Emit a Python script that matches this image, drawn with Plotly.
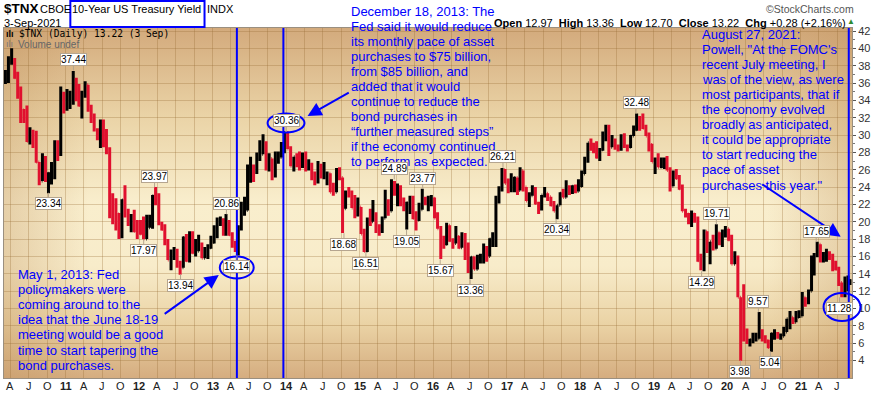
import base64
import pandas as pd
import plotly.graph_objects as go

# ---------------- data (half-month bars, $TNX = 10x yield) ----------------
close = [
    # 2010 Mar..Dec
    36.9, 38.4, 38.6, 36.6, 34.6, 32.9, 32.3, 29.3, 29.9, 29.1,
    26.9, 24.7, 27.4, 25.1, 25.6, 26.0, 28.9, 27.8, 34.7, 33.0,
    # 2011
    33.3, 33.7, 36.2, 34.3, 33.4, 34.7, 35.8, 32.9, 31.7, 30.6, 29.7, 31.6,
    29.1, 28.0, 22.5, 22.3, 20.9, 19.2, 22.5, 21.2, 20.1, 20.7, 18.9, 18.8,
    # 2012
    18.6, 18.0, 19.3, 19.8, 23.0, 22.1, 19.8, 19.1, 17.5, 15.6, 15.9, 16.5,
    14.9, 14.7, 18.2, 15.5, 18.7, 16.4, 16.6, 17.2, 15.8, 16.2, 17.0, 17.6,
    # 2013
    18.3, 19.9, 20.0, 18.9, 20.0, 18.5, 17.2, 16.7, 19.4, 21.3, 21.3, 24.9,
    25.9, 25.8, 27.7, 27.8, 28.8, 26.1, 27.3, 25.5, 27.1, 27.4, 28.7, 30.3,
    # 2014
    28.4, 26.4, 27.5, 26.5, 26.5, 27.2, 26.3, 26.5, 25.2, 24.6, 26.0, 25.3,
    25.5, 25.6, 23.4, 23.4, 26.0, 25.1, 21.5, 23.4, 23.2, 21.6, 21.1, 21.7,
    # 2015
    18.6, 16.6, 20.2, 20.0, 20.9, 19.3, 18.9, 20.4, 21.4, 21.2, 23.7, 23.5,
    23.6, 22.0, 21.9, 22.2, 22.8, 20.4, 20.2, 21.4, 22.7, 22.1, 22.3, 22.7,
    # 2016
    20.4, 19.2, 17.5, 17.4, 19.6, 17.8, 17.5, 18.3, 17.0, 18.5, 15.8, 14.7,
    15.9, 14.5, 15.6, 15.8, 16.9, 16.0, 18.0, 18.3, 22.3, 23.7, 26.0, 24.4,
    # 2017
    23.8, 24.5, 25.1, 23.6, 25.9, 24.0, 22.4, 23.0, 23.3, 22.1, 21.6, 23.1,
    23.3, 22.9, 21.9, 21.2, 21.9, 23.3, 22.8, 23.8, 23.7, 24.1, 23.5, 24.1,
    # 2018
    25.5, 27.2, 29.1, 28.7, 28.2, 27.4, 28.3, 29.5, 30.7, 28.6, 29.2, 28.6,
    28.4, 29.6, 28.7, 28.6, 29.9, 30.6, 31.6, 31.5, 30.8, 29.9, 28.9, 26.9,
    # 2019
    27.1, 26.3, 26.6, 27.2, 25.9, 24.1, 25.6, 25.0, 23.8, 21.2, 20.9, 20.1,
    20.9, 20.2, 15.5, 15.0, 18.9, 16.7, 17.7, 16.9, 18.8, 17.8, 18.8, 19.2,
    # 2020
    17.9, 15.1, 15.9, 11.3, 9.5, 6.7, 6.3, 6.4, 6.4, 6.5, 7.1, 6.6,
    6.3, 5.5, 7.1, 7.1, 6.7, 6.8, 7.3, 8.8, 9.0, 8.4, 9.0, 9.1,
    # 2021 Jan..Aug, Sep 3
    11.3, 10.7, 12.0, 14.0, 16.2, 17.4, 15.7, 16.3, 16.3, 15.8, 14.9, 14.5,
    13.0, 12.2, 12.8, 13.1, 13.22,
]
high = [
    37.5, 39.1, 40.0, 38.9, 37.3, 35.6, 33.0, 33.4, 30.9, 30.6,
    30.5, 26.9, 27.9, 27.6, 25.7, 26.9, 29.4, 29.4, 35.6, 35.0,
    35.3, 35.1, 37.4, 36.6, 35.9, 35.1, 36.2, 35.0, 33.5, 32.5, 30.8, 31.8,
    31.8, 30.7, 28.6, 23.3, 22.7, 21.0, 22.6, 24.2, 21.5, 20.9, 21.4, 20.2,
    20.2, 20.6, 20.8, 20.8, 23.1, 24.0, 23.3, 20.0, 19.7, 18.0, 16.8, 17.1,
    16.9, 15.5, 18.3, 18.6, 18.9, 18.9, 18.0, 18.5, 17.6, 17.1, 17.4, 18.4,
    19.6, 20.5, 20.6, 20.4, 20.9, 20.2, 18.8, 17.8, 19.6, 22.3, 22.9, 26.6,
    27.5, 26.6, 28.0, 29.4, 30.1, 29.3, 27.9, 26.5, 28.1, 28.1, 29.2, 30.4,
    30.4, 28.7, 27.5, 27.9, 28.1, 28.0, 28.1, 27.2, 26.8, 25.8, 27.0, 26.7,
    26.9, 25.8, 25.3, 24.5, 26.2, 26.3, 24.8, 23.6, 24.0, 23.6, 23.1, 22.8,
    21.3, 19.2, 20.5, 21.5, 22.5, 21.1, 19.7, 20.6, 23.7, 22.6, 24.9, 24.7,
    24.4, 24.2, 22.8, 22.3, 23.0, 23.0, 21.2, 22.2, 23.8, 22.9, 23.0, 23.1,
    22.8, 21.1, 19.5, 18.4, 19.9, 19.6, 18.1, 19.5, 18.4, 18.8, 18.7, 17.6,
    16.0, 16.0, 16.2, 16.3, 17.5, 17.2, 18.1, 18.8, 23.0, 24.1, 26.2, 26.1,
    25.0, 25.6, 25.2, 25.1, 26.3, 25.2, 24.0, 23.4, 24.2, 24.0, 22.3, 23.1,
    24.0, 23.3, 22.9, 22.4, 21.9, 23.4, 23.8, 24.8, 24.2, 24.2, 24.3, 24.9,
    25.9, 27.5, 29.1, 29.6, 29.1, 29.3, 28.5, 30.4, 31.2, 31.2, 30.0, 29.6,
    28.9, 30.1, 30.2, 28.9, 30.0, 31.1, 32.5, 32.2, 32.5, 31.2, 30.3, 29.0,
    27.4, 27.9, 27.4, 27.4, 27.6, 26.3, 25.9, 26.1, 25.4, 24.3, 21.5, 21.0,
    21.3, 21.0, 20.6, 16.3, 19.1, 18.9, 17.7, 18.5, 19.7, 18.4, 19.1, 19.5,
    19.2, 18.5, 16.6, 16.1, 10.5, 12.8, 7.7, 6.5, 7.2, 7.2, 9.6, 7.6,
    6.9, 6.4, 7.2, 7.6, 7.3, 7.1, 7.9, 8.8, 9.7, 8.9, 9.7, 9.8,
    11.9, 11.0, 12.2, 16.1, 16.4, 17.7, 17.3, 16.5, 16.9, 16.6, 16.3, 15.5,
    14.8, 13.0, 13.7, 13.8, 13.36,
]
low = [
    35.9, 36.0, 38.1, 36.5, 34.2, 31.4, 31.4, 29.2, 28.9, 28.5,
    26.8, 24.2, 24.7, 24.6, 23.3, 24.3, 24.9, 27.0, 27.6, 32.5,
    32.8, 33.0, 33.5, 33.9, 33.3, 31.9, 34.3, 32.7, 31.4, 30.4, 29.4, 28.5,
    28.6, 27.8, 20.4, 19.7, 19.0, 18.0, 18.1, 20.5, 19.5, 18.8, 18.8, 18.0,
    18.5, 17.97, 18.0, 19.3, 19.2, 21.9, 19.6, 19.0, 17.3, 15.6, 14.4, 15.6,
    14.7, 13.9, 14.7, 15.4, 15.3, 16.3, 16.0, 16.9, 15.8, 15.9, 15.7, 16.9,
    17.5, 18.1, 19.5, 18.4, 18.4, 18.4, 17.0, 16.5, 16.1, 19.0, 20.7, 21.7,
    24.5, 24.6, 25.5, 27.0, 27.9, 25.9, 25.8, 24.8, 25.1, 26.7, 27.5, 27.9,
    28.4, 26.4, 25.8, 26.3, 25.9, 26.2, 25.8, 25.9, 24.8, 24.2, 24.4, 25.0,
    24.9, 24.2, 23.4, 23.0, 23.4, 24.8, 18.7, 21.6, 22.8, 21.6, 20.4, 20.6,
    18.6, 16.5, 16.5, 19.5, 20.4, 18.7, 18.4, 18.7, 20.9, 20.7, 21.3, 23.0,
    21.8, 21.8, 21.2, 19.1, 20.9, 20.3, 19.0, 20.1, 21.4, 21.9, 21.2, 21.8,
    20.4, 19.2, 15.7, 16.9, 17.3, 17.7, 16.9, 17.5, 16.9, 17.4, 15.6, 14.1,
    13.4, 14.5, 14.9, 15.2, 15.2, 15.4, 16.0, 17.1, 17.1, 22.1, 23.5, 24.4,
    23.3, 23.4, 23.4, 23.1, 24.0, 23.5, 22.4, 21.7, 23.0, 22.0, 20.9, 21.3,
    22.8, 22.4, 21.8, 21.2, 20.3, 21.9, 22.8, 22.8, 23.1, 23.2, 23.3, 23.5,
    24.0, 25.5, 26.8, 28.2, 27.9, 27.3, 27.0, 28.2, 29.3, 27.6, 28.7, 28.3,
    28.1, 28.2, 28.5, 28.1, 28.5, 29.9, 30.5, 30.5, 30.7, 29.9, 28.1, 26.9,
    25.5, 26.3, 26.2, 26.1, 25.9, 23.5, 24.3, 24.9, 23.7, 21.2, 20.5, 19.7,
    19.4, 19.9, 15.4, 14.4, 14.3, 16.4, 15.1, 16.7, 17.1, 17.3, 17.1, 18.2,
    17.8, 15.1, 15.1, 11.3, 3.98, 6.2, 5.9, 5.6, 6.0, 6.2, 6.5, 6.2,
    6.0, 5.4, 5.0, 6.4, 6.5, 6.4, 6.8, 7.5, 7.6, 8.2, 8.9, 8.9,
    9.1, 10.2, 10.5, 12.0, 13.8, 15.9, 15.3, 15.3, 15.4, 15.6, 14.3, 14.4,
    12.6, 11.3, 11.3, 12.0, 12.70,
]
first_open = 36.1

# bar dates: two per month (Mar 2010 .. Aug 2021) plus the last session
bar_dates = []
for m in pd.period_range("2010-03", "2021-08", freq="M"):
    bar_dates.append(f"{m.year}-{m.month:02d}-08")
    bar_dates.append(f"{m.year}-{m.month:02d}-23")
bar_dates.append("2021-09-02")

# labelled highs / lows
label_dates = ["2010-10-08", "2011-02-09", "2012-01-24", "2012-03-18", "2012-07-25",
               "2013-03-10", "2013-05-01", "2013-12-31", "2014-10-15", "2015-02-01",
               "2015-06-22", "2015-08-22", "2015-11-10", "2016-02-05", "2016-07-03",
               "2016-12-13", "2017-09-03", "2018-10-05", "2019-08-27", "2019-11-08",
               "2020-03-07", "2020-06-04", "2020-08-03", "2021-03-18", "2021-07-12"]
label_values = ["23.34", "37.44", "17.97", "23.97", "13.94",
                "20.86", "16.14", "30.36", "18.68", "16.51",
                "24.89", "19.05", "23.77", "15.67", "13.36",
                "26.21", "20.34", "32.48", "14.29", "19.71",
                "3.98", "9.57", "5.04", "17.65", "11.28"]
label_side = ["low", "high", "low", "high", "low",
              "high", "low", "high", "low", "low",
              "high", "low", "high", "low", "low",
              "high", "low", "high", "low", "high",
              "low", "high", "low", "high", "low"]

event_dates = ["2013-05-01", "2013-12-18", "2021-08-27"]

y_ticks = list(range(4, 43, 2))
tick_dates = []
tick_text = []
for yr in range(2010, 2022):
    for mo, lab in [(1, f"<b>{str(yr)[2:]}</b>"), (4, "A"), (7, "J"), (10, "O")]:
        d = f"{yr}-{mo:02d}-01"
        if "2010-03-01" < d < "2021-09-12":
            tick_dates.append(d)
            tick_text.append(lab)

may_lines = ["May 1, 2013: Fed", "policymakers were", "coming around to the",
             "idea that the June 18-19", "meeting would be a good",
             "time to start tapering the", "bond purchases."]
dec_lines = ["December 18, 2013: The", "Fed said it would reduce",
             "its monthly pace of asset", "purchases to $75 billion,",
             "from $85 billion, and", "added that it would",
             "continue to reduce the", "bond purchases in",
             "\u201cfurther measured steps\u201d", "if the economy continued",
             "to perform as expected."]
aug_lines = ["August 27, 2021:", "Powell, \"At the FOMC's", "recent July meeting, I",
             "was of the view, as were", "most participants, that if",
             "the economy evolved", "broadly as anticipated,",
             "it could be appropriate", "to start reducing the",
             "pace of asset", "purchases this year.\""]

# ---------------- figure ----------------
W, H = 873, 395
PL, PR, PT, PB = 3, 853, 28, 378


def fx(p):
    return (p - PL) / (PR - PL)


def fy(p):
    return (PB - p) / (PB - PT)


opens = [first_open] + close[:-1]
hi = [max(h, o, c) for h, o, c in zip(high, opens, close)]
lo = [min(l, o, c) for l, o, c in zip(low, opens, close)]

BLUE = "#0000ff"
FONT = "Arial, Liberation Sans, sans-serif"

fig = go.Figure(go.Ohlc(
    x=bar_dates, open=opens, high=hi, low=lo, close=close,
    increasing=dict(line=dict(color="#000000", width=3)),
    decreasing=dict(line=dict(color="#e0102e", width=3)),
    tickwidth=0.35, hoverinfo="skip", showlegend=False,
))

svg = (
    "<svg xmlns='http://www.w3.org/2000/svg' width='100' height='100' "
    "viewBox='0 0 100 100' preserveAspectRatio='none'>"
    "<defs><linearGradient id='g' x1='0' y1='0' x2='0' y2='1'>"
    "<stop offset='0' stop-color='#d3aa7c'/>"
    "<stop offset='0.25' stop-color='#ead3a6'/>"
    "<stop offset='0.5' stop-color='#f9eecd'/>"
    "<stop offset='0.68' stop-color='#f8ecca'/>"
    "<stop offset='0.85' stop-color='#ead2a4'/>"
    "<stop offset='1' stop-color='#d5ad80'/></linearGradient>"
    "<linearGradient id='h' x1='0' y1='0' x2='1' y2='0'>"
    "<stop offset='0' stop-color='#b98750' stop-opacity='0.30'/>"
    "<stop offset='0.1' stop-color='#b98750' stop-opacity='0'/>"
    "<stop offset='0.9' stop-color='#b98750' stop-opacity='0'/>"
    "<stop offset='1' stop-color='#b98750' stop-opacity='0.30'/></linearGradient></defs>"
    "<rect width='100' height='100' fill='url(#g)'/>"
    "<rect width='100' height='100' fill='url(#h)'/></svg>"
)
bg_uri = "data:image/svg+xml;base64," + base64.b64encode(svg.encode()).decode()

shapes = []
for d in event_dates:
    shapes.append(dict(type="line", xref="x", yref="paper", x0=d, x1=d, y0=0, y1=1,
                       line=dict(color=BLUE, width=2), layer="above"))
# ellipses around key labels (pixel centre, rx, ry)
for cx, cy, rx, ry in [(236.3, 267.5, 17, 11), (285.7, 123, 18.5, 9.5), (843, 307, 18.5, 14)]:
    shapes.append(dict(type="circle", xref="paper", yref="paper",
                       x0=fx(cx - rx), x1=fx(cx + rx), y0=fy(cy + ry), y1=fy(cy - ry),
                       line=dict(color=BLUE, width=2), layer="above"))
# title box
shapes.append(dict(type="rect", xref="paper", yref="paper",
                   x0=fx(69.5), x1=fx(204), y0=fy(27), y1=fy(1),
                   line=dict(color=BLUE, width=2)))

ann = []


def text(xp, yp, s, size=11, color="#000", family=FONT, anchor="left"):
    ann.append(dict(x=fx(xp), y=fy(yp), xref="paper", yref="paper", text=s,
                    showarrow=False, xanchor=anchor, yanchor="middle",
                    borderpad=0, borderwidth=0,
                    font=dict(size=size, color=color, family=family)))


text(3, 8.5, "<b>$TNX</b>", size=13.5)
text(39.5, 9, "CBOE")
text(71.5, 9, "10-Year US Treasury Yield")
text(206.5, 9, "INDX")
text(3.5, 22.7, "3-Sep-2021")
text(855, 9.5, "\u00a9StockCharts.com", size=10.5, color="#555", anchor="right")
text(847, 22.7, "<b>Open</b> 12.97\u00a0 <b>High</b> 13.36\u00a0 <b>Low</b> 12.70\u00a0 "
     "<b>Close</b> 13.22\u00a0 <b>Chg</b> +0.28 (+2.16%)", anchor="right")
text(848, 21.5, "\u25b2", size=8, color="#2e8b2e")
text(5, 34, "<b>\u0131l\u0131</b>", size=9)
text(18.3, 34, "$TNX (Daily) 13.22 (3 Sep)", size=9.6, family="DejaVu Sans Mono, monospace")
text(5.5, 44, "\u0131l\u0131", size=9, color="#777")
text(16.7, 44, "Volume undef", size=10, color="#666")

for i, s in enumerate(may_lines):
    text(17.3, 274 + 15.2 * i, s, size=13, color=BLUE)
for i, s in enumerate(dec_lines):
    text(350.7, 11.7 + 15 * i, s, size=13, color=BLUE)
for i, s in enumerate(aug_lines):
    text(702.3, 34.3 + 15.07 * i, s, size=13, color=BLUE)

# x tick labels (placed just under the plot)
for d, s in zip(tick_dates, tick_text):
    ann.append(dict(x=d, y=fy(386), xref="x", yref="paper", text=s, showarrow=False,
                    xanchor="center", yanchor="middle", borderpad=0, borderwidth=0,
                    font=dict(size=11, color="#222", family=FONT)))

# arrows (tip pixel, tail pixel)
for (tx, ty), (sx, sy) in [((218.3, 275), (162.7, 315)),
                           ((307.3, 116), (350, 91.7)),
                           ((841.7, 236.7), (761.7, 183.3))]:
    ann.append(dict(x=fx(tx), y=fy(ty), xref="paper", yref="paper", text="",
                    showarrow=True, ax=sx - tx, ay=sy - ty, arrowhead=2,
                    arrowsize=1.4, arrowwidth=2, arrowcolor=BLUE, standoff=0))

# price labels
for d, v, side in zip(label_dates, label_values, label_side):
    ann.append(dict(x=d, y=float(v), xref="x", yref="y", text=v,
                    showarrow=True, ax=0, ay=-11 if side == "high" else 11,
                    arrowhead=0, arrowwidth=1, arrowcolor="#b5a58f", standoff=0,
                    bgcolor="#ffffff", bordercolor="#b5a58f", borderwidth=1, borderpad=0,
                    font=dict(size=10, color="#000", family=FONT)))

fig.update_layout(
    width=W, height=H,
    margin=dict(l=PL, r=W - PR, t=PT, b=H - PB),
    paper_bgcolor="#ffffff", plot_bgcolor="rgba(0,0,0,0)",
    images=[dict(source=bg_uri, xref="paper", yref="paper", x=0, y=1, sizex=1, sizey=1,
                 xanchor="left", yanchor="top", sizing="stretch", layer="below")],
    shapes=shapes, annotations=ann, showlegend=False,
    font=dict(family=FONT, size=11, color="#222"),
    xaxis=dict(type="date", range=["2010-03-01", "2021-09-12"],
               tickmode="array", tickvals=tick_dates, showticklabels=False,
               showgrid=True, gridcolor="rgba(150,105,50,0.3)", gridwidth=1,
               ticks="",
               showline=True, linecolor="#9a8f80", linewidth=1, mirror=True,
               rangeslider=dict(visible=False), zeroline=False, fixedrange=True),
    yaxis=dict(side="right", range=[1.98, 42.35], tickmode="array", tickvals=y_ticks,
               showgrid=True, gridcolor="rgba(150,105,50,0.3)", gridwidth=1,
               ticks="outside", ticklen=3, tickcolor="#555",
               minor=dict(tickmode="array", tickvals=list(range(5, 43, 2)),
                          ticks="outside", ticklen=2, tickcolor="#777", showgrid=False),
               tickfont=dict(size=11, color="#333"),
               showline=True, linecolor="#9a8f80", linewidth=1, mirror=True,
               zeroline=False, fixedrange=True),
)

fig.write_html("out.html", config=dict(displayModeBar=False, staticPlot=True),
               post_script="document.body.style.margin='0';document.body.style.padding='0';")
